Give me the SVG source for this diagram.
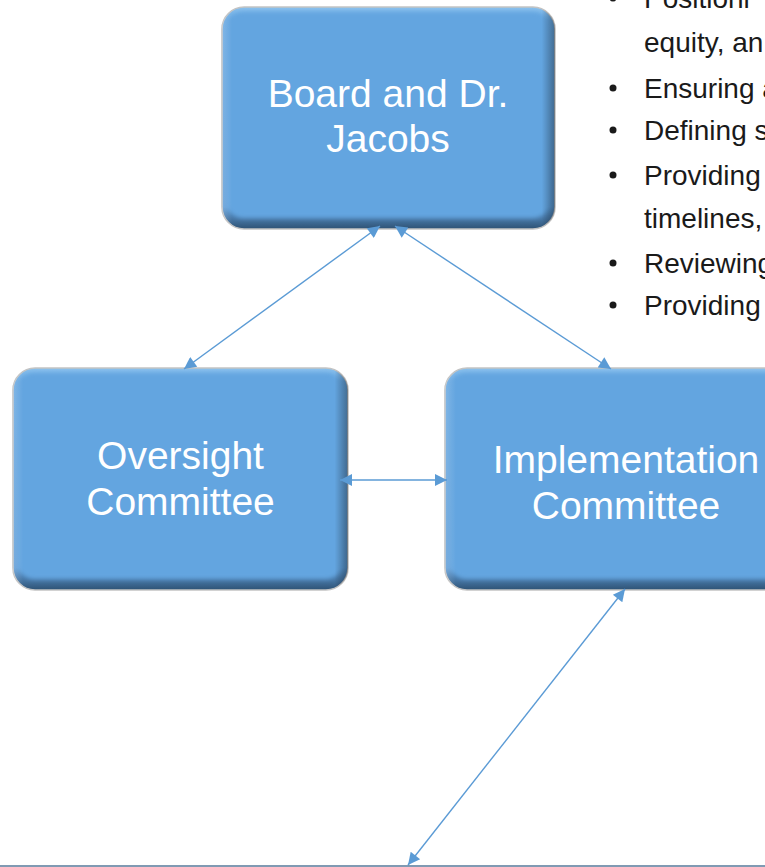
<svg xmlns="http://www.w3.org/2000/svg" width="765" height="867" viewBox="0 0 765 867">
  <style>
    .label { font-family: "Liberation Sans", Arial, sans-serif; font-size: 39px; fill: #ffffff; text-anchor: middle; }
    .bullet-text { font-family: "Liberation Sans", Arial, sans-serif; font-size: 28px; fill: #1a1a1a; }
    .dot { fill: #1a1a1a; }
    .rim { fill: url(#rimGrad); stroke: #c4c4c4; stroke-width: 1.6; }
    .shade { fill: url(#sideGrad); }
    .face { fill: #63a5e0; filter: url(#soft); }
    .conn { stroke: #5b9bd5; stroke-width: 1.4; fill: none; marker-start: url(#arrow); marker-end: url(#arrow); }
  </style>
  <defs>
    <linearGradient id="rimGrad" x1="0" y1="0" x2="0" y2="1">
      <stop offset="0" stop-color="#8cc2ee"/>
      <stop offset="0.06" stop-color="#66a7e1"/>
      <stop offset="0.9" stop-color="#5c9bd6"/>
      <stop offset="0.96" stop-color="#44729f"/>
      <stop offset="1" stop-color="#2e5274"/>
    </linearGradient>
    <linearGradient id="sideGrad" x1="0" y1="0" x2="1" y2="0">
      <stop offset="0" stop-color="#ffffff" stop-opacity="0.18"/>
      <stop offset="0.03" stop-color="#ffffff" stop-opacity="0"/>
      <stop offset="0.96" stop-color="#000000" stop-opacity="0"/>
      <stop offset="1" stop-color="#000000" stop-opacity="0.35"/>
    </linearGradient>
    <filter id="soft" x="-5%" y="-5%" width="110%" height="110%">
      <feGaussianBlur stdDeviation="2.2"/>
    </filter>
    <marker id="arrow" viewBox="0 0 10 10" refX="10" refY="5" markerUnits="userSpaceOnUse" markerWidth="15" markerHeight="12" orient="auto-start-reverse">
      <path d="M0,0 L10,5 L0,10 z" fill="#5b9bd5"/>
    </marker>
  </defs>

  <rect width="765" height="867" fill="#ffffff"/>

  <!-- bullet list beside the chart (runs past the right edge) -->
  <g id="bullets">
    <circle class="dot" cx="613" cy="-2" r="3.5"/>
    <text class="bullet-text" x="644" y="8">Positioni</text>
    <text class="bullet-text" x="644" y="52">equity, an</text>
    <circle class="dot" cx="613" cy="88" r="3.5"/>
    <text class="bullet-text" x="644" y="98">Ensuring a</text>
    <circle class="dot" cx="613" cy="130" r="3.5"/>
    <text class="bullet-text" x="644" y="140">Defining s</text>
    <circle class="dot" cx="613" cy="175" r="3.5"/>
    <text class="bullet-text" x="644" y="185">Providing</text>
    <text class="bullet-text" x="644" y="228">timelines,</text>
    <circle class="dot" cx="613" cy="263" r="3.5"/>
    <text class="bullet-text" x="644" y="273">Reviewing</text>
    <circle class="dot" cx="613" cy="305" r="3.5"/>
    <text class="bullet-text" x="644" y="315">Providing</text>
  </g>

  <g id="board">
    <rect class="rim" x="222" y="7" width="333" height="222" rx="22"/>
    <rect class="face" x="226" y="12" width="324" height="206" rx="18"/>
    <rect class="shade" x="222" y="7" width="333" height="222" rx="22"/>
    <text class="label" x="388" y="107">Board and Dr.</text>
    <text class="label" x="388" y="152">Jacobs</text>
  </g>

  <g id="oversight">
    <rect class="rim" x="13" y="368" width="335" height="222" rx="22"/>
    <rect class="face" x="17" y="373" width="326" height="206" rx="18"/>
    <rect class="shade" x="13" y="368" width="335" height="222" rx="22"/>
    <text class="label" x="180.5" y="469">Oversight</text>
    <text class="label" x="180.5" y="515">Committee</text>
  </g>

  <g id="implementation">
    <rect class="rim" x="445" y="368" width="362" height="222" rx="22"/>
    <rect class="face" x="449" y="373" width="353" height="206" rx="18"/>
    <rect class="shade" x="445" y="368" width="362" height="222" rx="22"/>
    <text class="label" x="626" y="473">Implementation</text>
    <text class="label" x="626" y="519">Committee</text>
  </g>

  <!-- connectors, drawn above the boxes so the tips sit on the edges -->
  <g id="connectors">
    <line class="conn" x1="380" y1="226" x2="184" y2="369"/>
    <line class="conn" x1="395" y1="226" x2="611" y2="369"/>
    <line class="conn" x1="340" y1="480" x2="447" y2="480"/>
    <line class="conn" x1="625" y1="589" x2="408" y2="865"/>
  </g>

  <line id="baseline" x1="0" y1="866" x2="765" y2="866" stroke="#56789a" stroke-width="1.6"/>
</svg>
